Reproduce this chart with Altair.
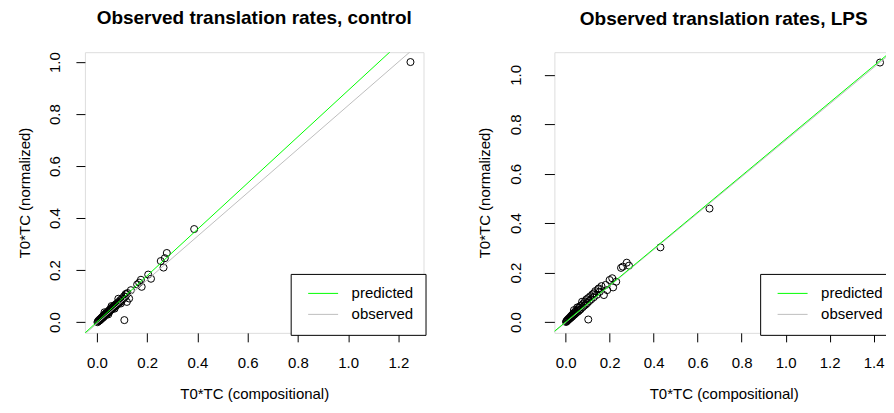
import altair as alt
import pandas as pd

FONT = "Liberation Sans"

# ---- data ----
ctrl_x = [1.248, 0.387, 0.278, 0.270, 0.254, 0.265, 0.204, 0.215, 0.175, 0.168, 0.178, 0.160,
          0.135, 0.128, 0.119, 0.114, 0.109, 0.122,
          0.002, 0.004, 0.006, 0.008, 0.010, 0.012, 0.013, 0.015, 0.017, 0.018, 0.020, 0.022,
          0.023, 0.025, 0.027, 0.028, 0.030, 0.032, 0.034, 0.035, 0.037, 0.039, 0.041, 0.043,
          0.045, 0.047, 0.049, 0.051, 0.053, 0.055, 0.057, 0.060, 0.062, 0.064, 0.066, 0.069,
          0.071, 0.074, 0.077, 0.080, 0.083, 0.086, 0.090, 0.093, 0.097, 0.100, 0.104, 0.108,
          0.113, 0.118, 0.030, 0.045, 0.058, 0.070, 0.085, 0.095]
ctrl_y = [1.000, 0.358, 0.266, 0.246, 0.235, 0.210, 0.183, 0.167, 0.163, 0.152, 0.136, 0.145,
          0.123, 0.091, 0.078, 0.108, 0.008, 0.112,
          0.000, 0.003, 0.004, 0.008, 0.006, 0.011, 0.009, 0.014, 0.012, 0.017, 0.015, 0.021,
          0.018, 0.024, 0.020, 0.027, 0.025, 0.030, 0.027, 0.034, 0.031, 0.036, 0.033, 0.040,
          0.037, 0.044, 0.040, 0.048, 0.045, 0.052, 0.048, 0.056, 0.052, 0.060, 0.055, 0.064,
          0.060, 0.068, 0.064, 0.073, 0.070, 0.078, 0.075, 0.085, 0.081, 0.092, 0.089, 0.100,
          0.097, 0.108, 0.038, 0.030, 0.062, 0.052, 0.090, 0.072]

lps_x = [1.429, 0.654, 0.431, 0.278, 0.288, 0.252, 0.260, 0.212, 0.200, 0.216, 0.230, 0.182,
         0.189, 0.174, 0.151, 0.129, 0.103,
         0.002, 0.004, 0.006, 0.008, 0.010, 0.012, 0.014, 0.016, 0.018, 0.020, 0.022, 0.024,
         0.026, 0.028, 0.030, 0.032, 0.034, 0.036, 0.038, 0.040, 0.042, 0.045, 0.047, 0.050,
         0.053, 0.055, 0.058, 0.060, 0.063, 0.066, 0.069, 0.072, 0.075, 0.078, 0.081, 0.085,
         0.088, 0.092, 0.095, 0.099, 0.103, 0.108, 0.112, 0.117, 0.122, 0.128, 0.135, 0.142,
         0.148, 0.155, 0.163]
lps_y = [1.050, 0.459, 0.302, 0.240, 0.228, 0.219, 0.224, 0.177, 0.170, 0.140, 0.163, 0.150,
         0.129, 0.109, 0.136, 0.116, 0.010,
         0.000, 0.004, 0.003, 0.008, 0.007, 0.012, 0.010, 0.015, 0.013, 0.019, 0.016, 0.023,
         0.019, 0.027, 0.022, 0.031, 0.026, 0.035, 0.048, 0.030, 0.040, 0.034, 0.045, 0.038,
         0.059, 0.050, 0.043, 0.058, 0.048, 0.064, 0.052, 0.068, 0.082, 0.060, 0.075, 0.066,
         0.083, 0.071, 0.092, 0.077, 0.097, 0.085, 0.104, 0.092, 0.112, 0.100, 0.125, 0.110,
         0.133, 0.122, 0.145]

series_names = ["predicted", "observed"]
series_colors = ["#00ff00", "#bebebe"]
ctrl_slope = [0.890, 0.838]
ctrl_icept = [0.001, -0.005]
lps_slope = [0.740, 0.737]
lps_icept = [0.000, -0.002]

ctrl_xticks = [0.0, 0.2, 0.4, 0.6, 0.8, 1.0, 1.2]
lps_xticks = [0.0, 0.2, 0.4, 0.6, 0.8, 1.0, 1.2, 1.4]
yticks = [0.0, 0.2, 0.4, 0.6, 0.8, 1.0]

W, H = 339, 281


def panel(title, px, py, slopes, icepts, xdom, ydom, xticks, ylab_pad, ytick, ytitle_x):
    pts = pd.DataFrame({"x": px, "y": py})
    rows = []
    for name, b, a in zip(series_names, slopes, icepts):
        for xv in xdom:
            rows.append({"series": name, "x": xv, "y": a + b * xv})
    lines = pd.DataFrame(rows)

    xs = alt.Scale(domain=xdom, nice=False, zero=False)
    ys = alt.Scale(domain=ydom, nice=False, zero=False)
    common = dict(grid=False, domain=False, tickColor="black", tickWidth=1,
                  labelFont=FONT, labelFontSize=15, labelColor="black",
                  labelFlush=False, labelOverlap=False, format=".1f",
                  titleFont=FONT, titleFontSize=15, titleFontWeight="normal",
                  titleColor="black", titleBaseline="alphabetic", titleAlign="center")
    xaxis = alt.Axis(values=xticks, tickSize=9, labelPadding=26,
                     labelBaseline="alphabetic", labelAngle=0,
                     title="T0*TC (compositional)", titleX=W / 2, titleY=66, **common)
    yaxis = alt.Axis(values=yticks, tickSize=ytick, labelPadding=ylab_pad,
                     labelAngle=270, labelAlign="center", labelBaseline="alphabetic",
                     title="T0*TC (normalized)", titleAngle=270, titleX=ytitle_x,
                     titleY=H / 2, **common)

    color = alt.Color(
        "series:N",
        scale=alt.Scale(domain=series_names, range=series_colors),
        legend=alt.Legend(orient="none", legendX=206, legendY=222, title=None,
                          symbolType="M-0.4,0L5.6,0", symbolSize=100, symbolStrokeWidth=1,
                          labelFont=FONT, labelFontSize=15, labelColor="black",
                          labelOffset=34, padding=12, rowPadding=5,
                          strokeColor="black", fillColor="white"),
    )

    points = alt.Chart(pts).mark_point(shape="circle", filled=False, color="black",
                                       size=50, strokeWidth=1, opacity=1).encode(
        x=alt.X("x:Q", scale=xs, axis=xaxis), y=alt.Y("y:Q", scale=ys, axis=yaxis))
    grey = alt.Chart(lines[lines.series == "observed"]).mark_line(
        clip=True, strokeWidth=1).encode(x="x:Q", y="y:Q", color=color)
    green = alt.Chart(lines[lines.series == "predicted"]).mark_line(
        clip=True, strokeWidth=1).encode(x="x:Q", y="y:Q", color=color)

    return alt.layer(points, grey, green).properties(
        width=W, height=H,
        title=alt.TitleParams(text=title, font=FONT, fontSize=19, fontWeight="bold",
                              color="black", anchor="middle", frame="group",
                              baseline="alphabetic", offset=8.5),
    )


left = panel("Observed translation rates, control", ctrl_x, ctrl_y, ctrl_slope, ctrl_icept,
             [-0.048, 1.300], [-0.041, 1.038], ctrl_xticks, 16, 9, -55)
right = panel("Observed translation rates, LPS", lps_x, lps_y, lps_slope, lps_icept,
              [-0.051, 1.488], [-0.044, 1.092], lps_xticks, 24, 10, -64.7)

chart = alt.hconcat(left, right, spacing=50).resolve_scale(
    x="independent", y="independent", color="independent"
).resolve_legend(color="independent").properties(
    padding={"left": 9, "top": 0, "right": -10, "bottom": 0}
).configure_view(stroke="black", strokeWidth=1).configure(font=FONT, background="white")

chart.save("out.html", embed_options={"renderer": "svg", "actions": False})
